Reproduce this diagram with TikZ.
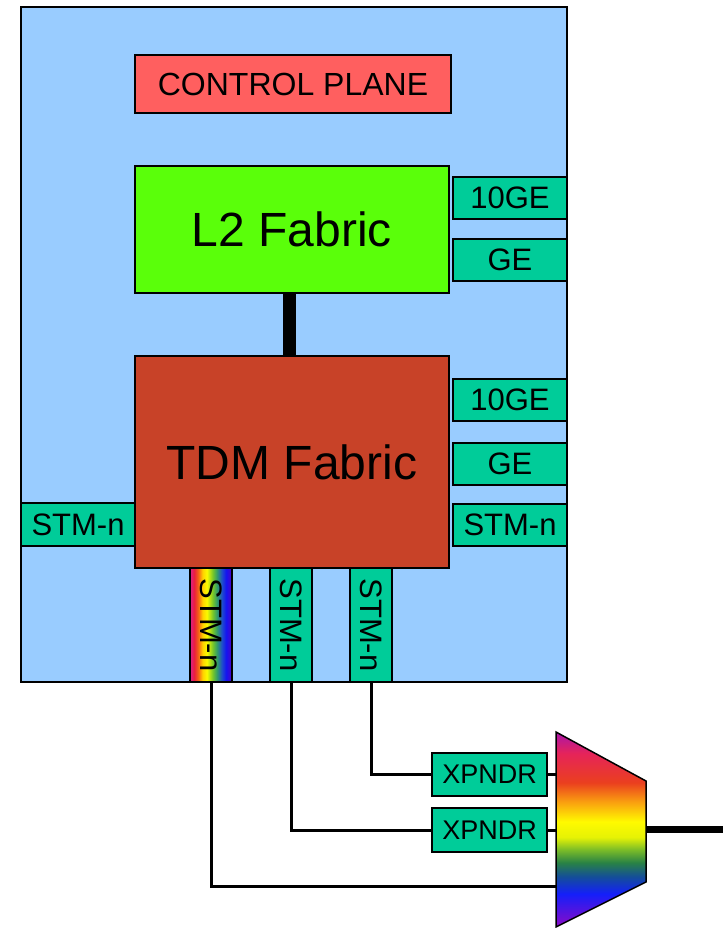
\documentclass[tikz,border=0pt]{standalone}
\usepackage{fontspec}
\setmainfont{Liberation Sans}
\usepackage{tikz}
\usetikzlibrary{positioning,calc}
\definecolor{chassisblue}{RGB}{153,204,255}
\definecolor{ctrlred}{RGB}{255,95,95}
\definecolor{ltwogreen}{RGB}{90,255,10}
\definecolor{tdmred}{RGB}{200,66,40}
\definecolor{portgreen}{RGB}{0,204,153}
\pgfdeclarehorizontalshading{portrainbow}{100bp}{
  rgb(0bp)=(0.86,0.12,0.55); rgb(25bp)=(0.86,0.12,0.55);
  rgb(30bp)=(0.92,0.12,0.24); rgb(35bp)=(0.96,0.40,0.08);
  rgb(40bp)=(1,0.82,0); rgb(45bp)=(0.98,0.98,0);
  rgb(52bp)=(0.47,0.78,0.16); rgb(57bp)=(0.2,0.62,0.4);
  rgb(63bp)=(0.12,0.3,0.8); rgb(68bp)=(0.08,0.08,0.94);
  rgb(75bp)=(0.31,0,0.78); rgb(100bp)=(0.31,0,0.78)}
\pgfdeclareverticalshading{muxrainbow}{100bp}{
  rgb(0bp)=(0.55,0.04,0.78); rgb(25bp)=(0.55,0.04,0.78);
  rgb(33.5bp)=(0.08,0.12,0.98); rgb(38bp)=(0.08,0.31,0.59);
  rgb(41.5bp)=(0.16,0.51,0.27); rgb(45bp)=(0.5,0.75,0.15);
  rgb(48bp)=(0.9,0.95,0.02); rgb(52bp)=(1,0.98,0); rgb(57bp)=(0.98,0.63,0.06);
  rgb(62bp)=(0.92,0.25,0.12); rgb(69.5bp)=(0.9,0.14,0.35);
  rgb(75bp)=(0.67,0.08,0.67); rgb(100bp)=(0.67,0.08,0.67)}
\tikzset{
  box/.style={draw, line width=1.5pt, inner sep=0pt, align=center},
  fabric/.style={box, minimum width=314pt, font=\fontsize{48}{52}\selectfont},
  port/.style={box, fill=portgreen, minimum width=114pt, minimum height=42pt,
               font=\fontsize{31}{34}\selectfont},
  vport/.style={box, fill=portgreen, minimum width=42pt, minimum height=114pt,
                font=\fontsize{31}{34}\selectfont},
  xpndr/.style={box, fill=portgreen, minimum width=115pt, minimum height=43pt,
                font=\fontsize{27}{30}\selectfont},
  link/.style={line width=3pt},
  trunk/.style={line width=13pt},
  fiber/.style={line width=7pt}
}
\begin{document}
\begin{tikzpicture}[x=1pt, y=-1pt, node distance=4pt and 4pt]
\useasboundingbox (0,0) rectangle (723,928);
\node[box, fill=chassisblue, minimum width=546pt, minimum height=675pt] (chassis) at (294,344.5) {};
\node[box, fill=ctrlred, minimum width=316pt, minimum height=58pt,
      font=\fontsize{32}{36}\selectfont] (ctrl) at (293,84) {CONTROL PLANE};
\node[fabric, fill=ltwogreen, minimum height=127pt] (l2) at (292,229.5) {L2 Fabric};
\node[fabric, fill=tdmred, minimum height=212pt] (tdm) at (292,462) {TDM Fabric};
\node[port] (l2ten) at (510,198) {10GE};
\node[port] (l2ge) at (510,260) {GE};
\node[port] (tdmten) at (510,400) {10GE};
\node[port] (tdmge) at (510,464) {GE};
\node[port] (stmr) at (510,525) {STM-n};
\node[port, minimum height=43pt] (stml) at (78,524.5) {STM-n};
\node[vport, shading=portrainbow] (pone) at (211,625) {\rotatebox{-90}{STM-n}};
\node[vport] (ptwo) at (291,625) {\rotatebox{-90}{STM-n}};
\node[vport] (pthree) at (371,625) {\rotatebox{-90}{STM-n}};
\draw[trunk] ([xshift=-2.5pt]l2.south) -- ([xshift=-2.5pt]tdm.north);
\node[xpndr] (xone) at (489.5,774.5) {XPNDR};
\node[xpndr, minimum height=44pt] (xtwo) at (489.5,830) {XPNDR};
\coordinate (muxin) at (556,886);
\coordinate (muxout) at (646,829);
\coordinate (line) at (723,829);
\draw[link] (pone.south) |- (muxin);
\draw[link] (ptwo.south) |- (xtwo.west);
\draw[link] (pthree.south) |- (xone.west);
\draw[link] (xone.east) -- (xone.east -| muxin);
\draw[link] (xtwo.east) -- (xtwo.east -| muxin);
\draw[fiber] (muxout) -- (line);
\draw[line width=1.5pt, shading=muxrainbow] (556,732) -- (646,781) -- (646,882) -- (556,927) -- cycle;
\end{tikzpicture}
\end{document}
